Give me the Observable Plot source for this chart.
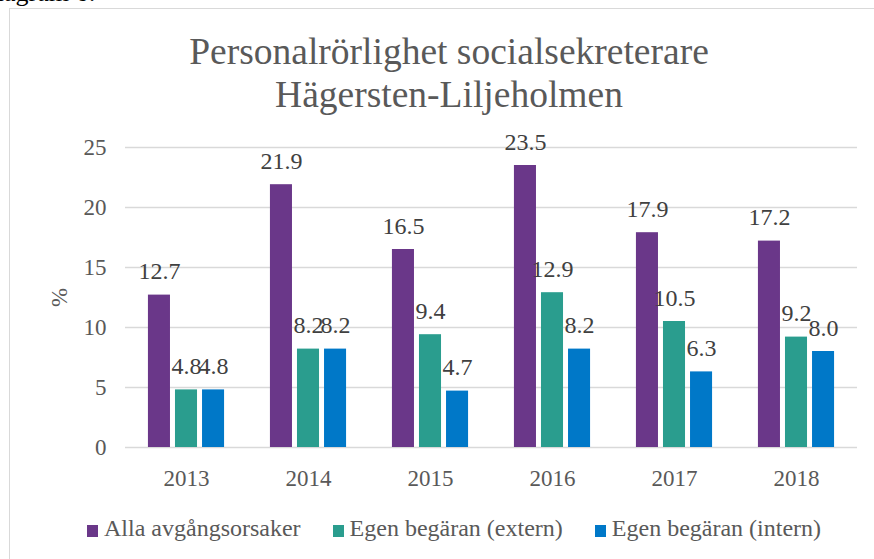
<!DOCTYPE html>
<html>
<head>
<meta charset="utf-8">
<script src="https://cdn.jsdelivr.net/npm/d3@7"></script>
<script src="https://cdn.jsdelivr.net/npm/@observablehq/plot@0.6"></script>
<style>
  html, body { margin: 0; padding: 0; background: #fff; overflow: hidden; width: 874px; height: 559px; }
  body { position: relative; font-family: "Liberation Serif", "Times New Roman", serif; }
  #above { position: absolute; left: -22px; top: -20px; font-size: 26px; line-height: 26px; color: #000; white-space: nowrap; }
  #box { position: absolute; left: 9px; top: 8px; width: 900px; height: 600px; border: 1px solid #d9d9d9; box-sizing: border-box; }
  #title { position: absolute; left: 9px; width: 880px; top: 30px; text-align: center; font-size: 37.5px; line-height: 43px; color: #595959; }
  #chart { position: absolute; left: 0; top: 120px; }
  #legend { position: absolute; left: 87px; top: 515px; font-size: 24px; line-height: 26px; color: #595959; white-space: nowrap; display: flex; gap: 32px; }
  .sw { display: inline-block; width: 11px; height: 12px; margin-right: 6px; vertical-align: -1px; }
</style>
</head>
<body>
<div id="above">Diagram 6:</div>
<div id="box"></div>
<div id="title">Personalrörlighet socialsekreterare<br>Hägersten-Liljeholmen</div>
<div id="chart"></div>
<div id="legend"></div>
<script>
const years = ["2013", "2014", "2015", "2016", "2017", "2018"];
const series = ["Alla avgångsorsaker", "Egen begäran (extern)", "Egen begäran (intern)"];
const alla = [12.7, 21.9, 16.5, 23.5, 17.9, 17.2];
const extern = [4.8, 8.2, 9.4, 12.9, 10.5, 9.2];
const intern = [4.8, 8.2, 4.7, 8.2, 6.3, 8.0];
const colors = ["#6A3789", "#2A9D8E", "#0078C8"];
const yTicks = [0, 5, 10, 15, 20, 25];

const values = [alla, extern, intern];
const data = years.flatMap((yr, i) => series.map((s, j) => ({year: yr, series: s, value: values[j][i]})));

const chart = Plot.plot({
  width: 874,
  height: 380,
  marginLeft: 124,
  marginRight: 17,
  marginTop: 27,
  marginBottom: 53,
  style: {fontFamily: "Liberation Serif, Times New Roman, serif", fontSize: "23px", color: "#595959", background: "transparent", overflow: "visible"},
  fx: {domain: years, padding: 0, label: null, tickSize: 0, tickPadding: 22, axis: "bottom"},
  x: {domain: series, axis: null, paddingInner: 5 / 27, paddingOuter: 0.848, round: false},
  y: {domain: [0, 25], ticks: yTicks, tickSize: 0, tickPadding: 19, label: "%", labelAnchor: "center", labelArrow: "none", labelOffset: 75},
  color: {domain: series, range: colors},
  marks: [
    Plot.gridY(yTicks, {stroke: "#d9d9d9", strokeOpacity: 1, strokeWidth: 1.3}),
    Plot.barY(data, {fx: "year", x: "series", y: "value", fill: "series"}),
    Plot.text(data, {fx: "year", x: "series", y: "value", text: d => d.value.toFixed(1), dy: -16, lineAnchor: "bottom", fill: "#404040", fontSize: 24})
  ]
});
document.getElementById("chart").appendChild(chart);

const legend = document.getElementById("legend");
series.forEach((s, i) => {
  const item = document.createElement("span");
  const sw = document.createElement("span");
  sw.className = "sw";
  sw.style.background = colors[i];
  item.appendChild(sw);
  item.appendChild(document.createTextNode(s));
  legend.appendChild(item);
});
</script>
</body>
</html>
